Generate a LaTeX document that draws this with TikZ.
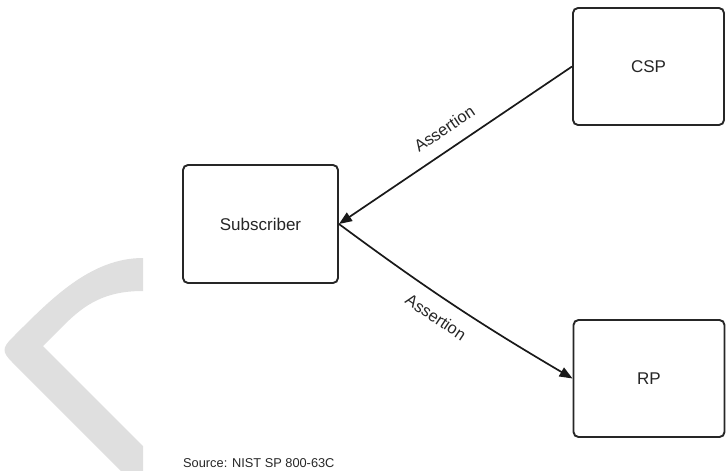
\documentclass[tikz,border=0pt]{standalone}
\usepackage{fontspec}
\setmainfont{Liberation Sans}
\usetikzlibrary{arrows.meta}
\begin{document}
\begin{tikzpicture}[x=1pt,y=-1pt,
  box/.style={draw=black!85, line width=1.9pt, rounded corners=5pt, fill=white,
    inner sep=0pt, text=black!85, font=\fontsize{17}{20}\selectfont},
  conn/.style={draw=black!90, line width=1.7pt, -{Triangle[length=13pt,width=10pt]}},
  lbl/.style={font=\fontsize{16.5}{20}\selectfont, text=black!85, inner sep=0pt, sloped},
  srcstyle/.style={font=\fontsize{12.8}{15}\selectfont, text=black!85, inner sep=0pt}]
\useasboundingbox (0,0) rectangle (726,471);
% watermark chevron
\begin{scope}
  \clip (0,0) rectangle (143,471);
  \fill[gray!25] (150,258) -- (143,258) .. controls (90,258) and (50,300) .. (12,338)
    .. controls (2,348) and (2,352) .. (12,362) -- (160,510) -- (160,463) -- (43,346)
    -- (63,326) .. controls (85,304) and (105,291) .. (143,291) -- (150,291) -- cycle;
\end{scope}
% boxes
\node[box, minimum width=155pt, minimum height=118pt] (sub) at (260.5,224) {Subscriber};
\node[box, minimum width=151pt, minimum height=117pt] (csp) at (648.5,66.5) {CSP};
\node[box, minimum width=151pt, minimum height=117pt] (rp) at (649,378.5) {RP};
% connectors
\draw[conn] (csp.west) -- node[lbl, above=13pt, pos=0.5] {Assertion} (sub.east);
\draw[conn] (sub.east) to[bend right=3] node[lbl, below=13pt, pos=0.47] {Assertion} (rp.west);
% source
\node[srcstyle, anchor=base west] (src) at (183,467) {Source: NIST SP 800-63C};
\end{tikzpicture}
\end{document}
